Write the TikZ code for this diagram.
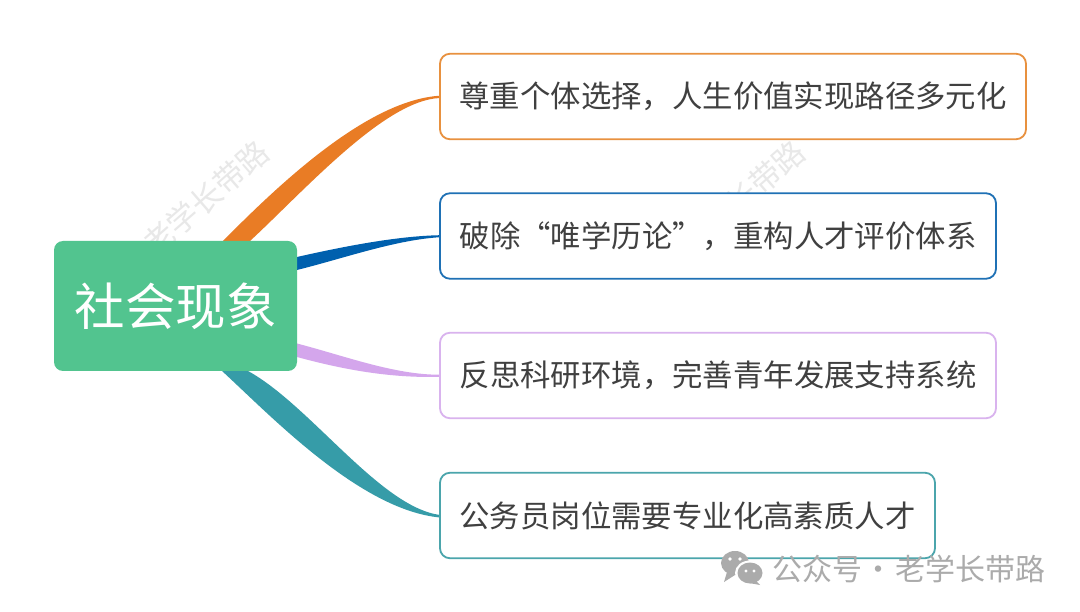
\documentclass[tikz,border=0pt]{standalone}
\usepackage{fontspec}
\usetikzlibrary{calc}
\setmainfont{Noto Sans CJK SC}
\pgfdeclarelayer{wm}
\pgfdeclarelayer{branches}
\pgfsetlayers{wm,branches,main}
\definecolor{corange}{HTML}{E97C25}
\definecolor{cblue}{HTML}{0060AE}
\definecolor{cpurple}{HTML}{D4A6EC}
\definecolor{cteal}{HTML}{369CA8}
\definecolor{bdorange}{HTML}{E8913F}
\definecolor{bdblue}{HTML}{1F71B5}
\definecolor{bdpurple}{HTML}{D9B3EE}
\definecolor{bdteal}{HTML}{4BA5AC}
\definecolor{cgreen}{HTML}{52C48F}
\definecolor{ctext}{HTML}{404040}
\definecolor{cmark}{HTML}{ABABAB}
\tikzset{
  topicbox/.style={draw,fill=white,rounded corners=10pt,line width=1.8pt,inner sep=0pt,outer sep=0pt,
    minimum height=85.5pt,text=ctext,font=\fontsize{30.4}{36}\selectfont},
  rootbox/.style={fill=cgreen,rounded corners=9pt,inner sep=0pt,outer sep=0pt,minimum width=243pt,
    minimum height=130pt,text=white,font=\fontsize{50.5}{60}\selectfont},
  faintmark/.style={text=black!9,rotate=41,inner sep=0pt,font=\fontsize{31}{36}\selectfont},
  marktext/.style={text=cmark,inner sep=0pt,anchor=west,font=\fontsize{30}{36}\selectfont},
}
\begin{document}
\begin{tikzpicture}[x=1pt,y=-1pt]
\useasboundingbox (0,0) rectangle (1080,612);
\node[rootbox] (root) at (175.5,306) {\raisebox{-1pt}{社会现象}};
\node[topicbox,draw=bdorange,minimum width=586pt] (b1) at (733,96.5) {\raisebox{-1pt}{尊重个体选择，人生价值实现路径多元化}};
\node[topicbox,draw=bdblue,minimum width=556pt] (b2) at (718,236) {\raisebox{-1pt}{破除“唯学历论”，重构人才评价体系}};
\node[topicbox,draw=bdpurple,minimum width=556pt] (b3) at (718,375.5) {\raisebox{-1pt}{反思科研环境，完善青年发展支持系统}};
\node[topicbox,draw=bdteal,minimum width=495pt] (b4) at (687.5,515.5) {\raisebox{-1pt}{公务员岗位需要专业化高素质人才}};
\begin{pgfonlayer}{wm}
\fill[white] (0,0) rectangle (1080,612);
\node[faintmark] (w1) at (206,198) {老学长带路};
\node[faintmark] (w2) at (742,198) {老学长带路};
\end{pgfonlayer}
\begin{pgfonlayer}{branches}
\fill[corange] ($(root.north)+(40,10)$) -- ($(root.north)+(47.5,0)$)
  .. controls (285,178) and (370,100) .. ($(b1.west)+(0,-0.8)$)
  -- ($(b1.west)+(0,1.5)$)
  .. controls (385,100) and (305,190) .. ($(root.north)+(74.5,0)$) -- ($(root.north)+(60,14)$) -- cycle;
\fill[cblue] ($(root.east)+(-5,-45)$) -- ($(root.east)+(0,-49)$)
  .. controls (350,245) and (400,236) .. ($(b2.west)+(0,-0.8)$)
  -- ($(b2.west)+(0,1.2)$)
  .. controls (395,240) and (345,258) .. ($(root.east)+(0,-36)$) -- ($(root.east)+(-5,-33)$) -- cycle;
\fill[cpurple] ($(root.east)+(-5,35)$) -- ($(root.east)+(0,37.5)$)
  .. controls (345,356) and (395,375) .. ($(b3.west)+(0,-0.8)$)
  -- ($(b3.west)+(0,1.4)$)
  .. controls (390,378) and (345,370) .. ($(root.east)+(0,51)$) -- ($(root.east)+(-5,49)$) -- cycle;
\fill[cteal] ($(root.south)+(40,-10)$) -- ($(root.south)+(46.5,0)$)
  .. controls (270,415) and (360,510) .. ($(b4.west)+(0,2)$)
  -- ($(b4.west)+(0,-0.5)$)
  .. controls (380,507) and (310,405) .. ($(root.south)+(72.5,0)$) -- ($(root.south)+(60,-14)$) -- cycle;
\end{pgfonlayer}
% WeChat-style mark
\fill[cmark] (735,563) ellipse (14pt and 12pt);
\fill[cmark] (727,572) -- (724,582) -- (735,575) -- cycle;
\fill[white] (750,573) ellipse (15pt and 12.5pt);
\fill[cmark] (750,573) ellipse (12.5pt and 10.5pt);
\fill[cmark] (755,580) -- (760,585) -- (749,583) -- cycle;
\fill[white] (730,559) circle (1.9pt) (740,559) circle (1.9pt);
\fill[white] (746,571) circle (1.6pt) (754,571) circle (1.6pt);
\node[marktext] (mark) at (772,568.5) {公众号\hspace{0.05em}·\hspace{0.05em}老学长带路};
\end{tikzpicture}
\end{document}
